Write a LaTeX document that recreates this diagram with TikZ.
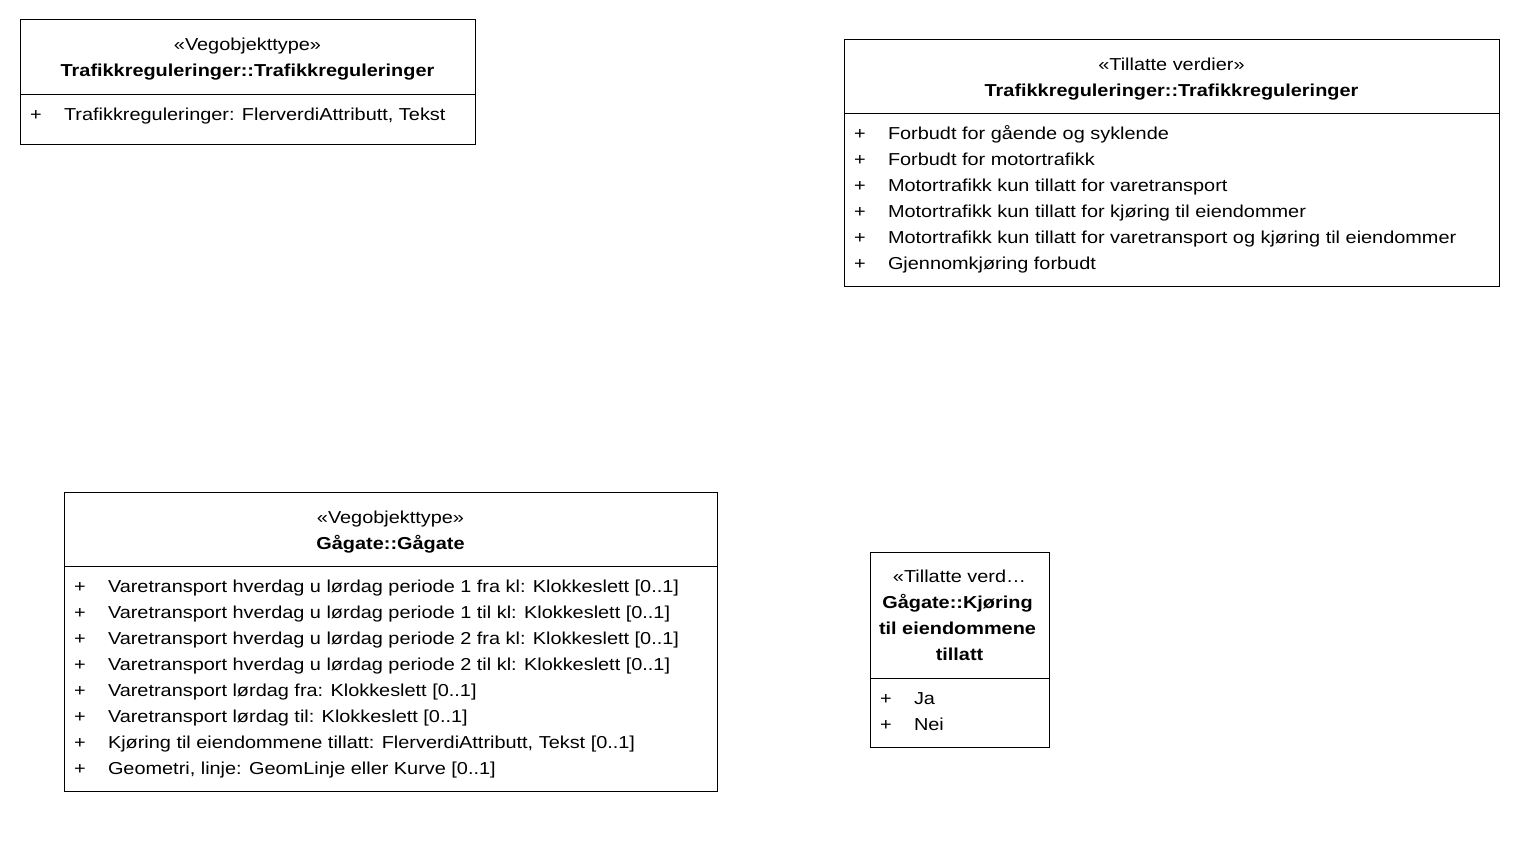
\documentclass[tikz,border=0pt]{standalone}
\usepackage{fontspec}
\setmainfont{Liberation Sans}[FakeStretch=1.15]
\begin{document}
\begin{tikzpicture}[x=1pt,y=-1pt,
  box/.style={draw=black,line width=1pt,fill=white},
  txt/.style={inner sep=0pt,outer sep=0pt,anchor=base,font=\fontsize{17.3}{20}\selectfont,text=black},
  ltxt/.style={txt,anchor=base west},
  btxt/.style={txt,font=\fontsize{17.3}{20}\selectfont\bfseries}]
\useasboundingbox[fill=white] (0,0) rectangle (1520,850);
% ---------- Box A
\draw[box] (20,20) rectangle (475,145);
\coordinate (aL) at (20,95); \coordinate (aR) at (475,95);
\draw[line width=1pt] (aL) -- (aR);
\node[txt]  (aS) at (247.5,51) {«Vegobjekttype»};
\node[btxt] (aN) at (247.5,77) {Trafikkreguleringer::Trafikkreguleringer};
\node[ltxt] (aP1) at (30,121) {+};
\node[ltxt] (aT1) at (64,121) {Trafikkreguleringer: FlerverdiAttributt, Tekst};
% ---------- Box B
\draw[box] (844,40) rectangle (1499,287);
\coordinate (bL) at (844,114); \coordinate (bR) at (1499,114);
\draw[line width=1pt] (bL) -- (bR);
\node[txt]  (bS) at (1171.5,71) {«Tillatte verdier»};
\node[btxt] (bN) at (1171.5,97) {Trafikkreguleringer::Trafikkreguleringer};
\foreach \i/\t in {0/Forbudt for gående og syklende,
                   1/Forbudt for motortrafikk,
                   2/Motortrafikk kun tillatt for varetransport,
                   3/Motortrafikk kun tillatt for kjøring til eiendommer,
                   4/Motortrafikk kun tillatt for varetransport og kjøring til eiendommer,
                   5/Gjennomkjøring forbudt}{
  \node[ltxt] (bP\i) at (854,140+26*\i) {+};
  \node[ltxt] (bT\i) at (888,140+26*\i) {\t};
}
% ---------- Box C
\draw[box] (64,492) rectangle (717,791);
\coordinate (cL) at (64,566); \coordinate (cR) at (717,566);
\draw[line width=1pt] (cL) -- (cR);
\node[txt]  (cS) at (390.5,523) {«Vegobjekttype»};
\node[btxt] (cN) at (390.5,549) {Gågate::Gågate};
\foreach \i/\t in {0/{Varetransport hverdag u lørdag periode 1 fra kl: Klokkeslett [0..1]},
                   1/{Varetransport hverdag u lørdag periode 1 til kl: Klokkeslett [0..1]},
                   2/{Varetransport hverdag u lørdag periode 2 fra kl: Klokkeslett [0..1]},
                   3/{Varetransport hverdag u lørdag periode 2 til kl: Klokkeslett [0..1]},
                   4/{Varetransport lørdag fra: Klokkeslett [0..1]},
                   5/{Varetransport lørdag til: Klokkeslett [0..1]},
                   6/{Kjøring til eiendommene tillatt: FlerverdiAttributt, Tekst [0..1]},
                   7/{Geometri, linje: GeomLinje eller Kurve [0..1]}}{
  \node[ltxt] (cP\i) at (74,592+26*\i) {+};
  \node[ltxt] (cT\i) at (108,592+26*\i) {\t};
}
% ---------- Box D
\draw[box] (870,552) rectangle (1049,747);
\coordinate (dL) at (870,678); \coordinate (dR) at (1049,678);
\draw[line width=1pt] (dL) -- (dR);
\node[txt]  (dS)  at (959.5,582) {«Tillatte verd…};
\node[btxt] (dN1) at (957.5,608) {Gågate::Kjøring};
\node[btxt] (dN2) at (957.5,634) {til eiendommene};
\node[btxt] (dN3) at (959.5,660) {tillatt};
\node[ltxt] (dP0) at (880,704) {+};
\node[ltxt] (dT0) at (914,704) {Ja};
\node[ltxt] (dP1) at (880,730) {+};
\node[ltxt] (dT1) at (914,730) {Nei};
\end{tikzpicture}
\end{document}
